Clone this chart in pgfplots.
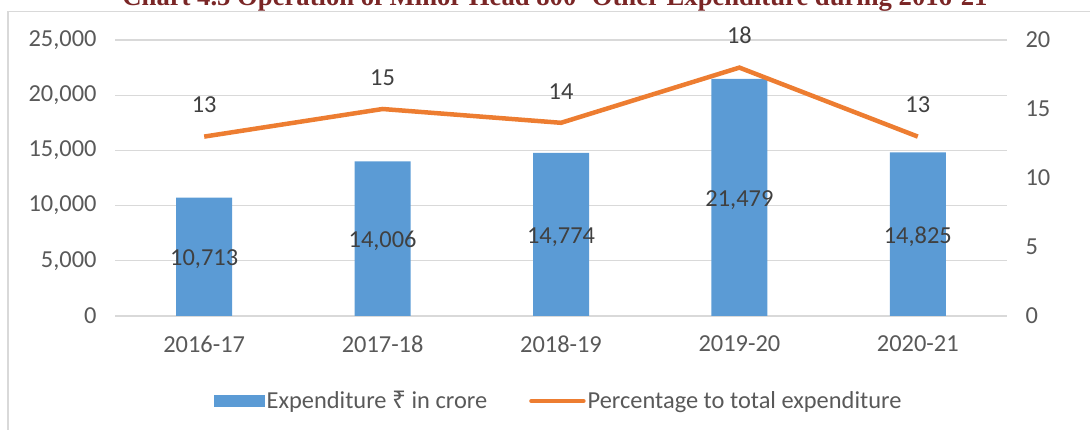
\documentclass[border=0pt]{standalone}
\usepackage{fontspec}
\setmainfont{Carlito}
\newfontfamily\titlefont{Liberation Serif}
\newfontfamily\rupeefont{Noto Sans}
\usepackage{pgfplots}
\usepackage{pgfplotstable}
\pgfplotsset{compat=1.18}

\definecolor{barblue}{RGB}{91,155,213}
\definecolor{lineorange}{RGB}{237,125,49}
\definecolor{gridgray}{RGB}{217,217,217}
\definecolor{ticktext}{RGB}{89,89,89}
\definecolor{labeltext}{RGB}{64,64,64}
\definecolor{titlered}{RGB}{122,38,38}
\definecolor{framegray}{RGB}{217,217,217}

\pgfplotstableread{
x y
0 10713
1 14006
2 14774
3 21479
4 14825
}\bardata

\pgfplotstableread{
x p
0 13
1 15
2 14
3 18
4 13
}\pctdata

\newcommand{\chartfont}{\fontsize{24.5}{28}\selectfont}

\begin{document}
\begin{tikzpicture}
\useasboundingbox (0bp,0bp) rectangle (1090bp,430bp);
% frame of the chart area
\draw[framegray, line width=1.5bp] (8bp,0bp) -- (8bp,418.5bp) -- (1090bp,418.5bp);
% title, cut off by the page top as in the source
\node[anchor=base, text=titlered, inner sep=0pt] at (555bp,424bp)
  {\resizebox{865bp}{!}{\titlefont\bfseries Chart 4.5 Operation of Minor Head 800- Other Expenditure during 2016-21}};

\begin{axis}[
  at={(115bp,114bp)}, anchor=south west,
  scale only axis, width=892bp, height=276bp,
  xmin=-0.5, xmax=4.5,
  ymin=0, ymax=25000,
  axis line style={draw=none},
  major tick length=0pt,
  xtick={0,1,2,3,4},
  xticklabels={2016-17,2017-18,2018-19,2019-20,2020-21},
  ytick={0,5000,10000,15000,20000,25000},
  ytick pos=left,
  ymajorgrids,
  grid style={gridgray, line width=1.3bp},
  tick label style={font=\chartfont, text=ticktext},
  yticklabel style={xshift=-15bp},
  xticklabel style={yshift=-16bp},
  scaled y ticks=false,
  /pgf/number format/assume math mode=true,
  /pgf/number format/1000 sep={,},
]
\addplot[ybar, bar width=56bp, fill=barblue, draw=none] table[x=x, y=y] {\bardata};
\addplot[draw=none, mark=none,
  nodes near coords={\pgfmathprintnumber[1000 sep={,}]{\pgfplotspointmeta}},
  point meta=explicit,
  every node near coord/.append style={anchor=center, yshift=-2.5bp, font=\chartfont, text=labeltext}]
  table[x=x, y expr=\thisrow{y}/2, meta=y] {\bardata};
\end{axis}

\begin{axis}[
  at={(115bp,114bp)}, anchor=south west,
  scale only axis, width=892bp, height=276bp,
  xmin=-0.5, xmax=4.5,
  ymin=0, ymax=20,
  clip=false,
  axis line style={draw=none},
  major tick length=0pt,
  xtick=\empty,
  ytick={0,5,10,15,20},
  ytick pos=right,
  tick label style={font=\chartfont, text=ticktext},
  yticklabel style={xshift=15bp},
  /pgf/number format/assume math mode=true,
  legend style={at={(0.111,-0.308)}, anchor=west, draw=none, fill=none,
    inner sep=0pt, font=\chartfont, text=ticktext,
    /tikz/every even column/.append style={column sep=40bp}},
  legend columns=2,
  legend cell align=left,
]
\addlegendimage{legend image code/.code={\fill[barblue] (0bp,-5.5bp) rectangle (50bp,5.5bp);}}
\addlegendentry{Expenditure {\rupeefont ₹} in crore}
\addplot[lineorange, line width=4.5bp, mark=none,
  legend image code/.code={\draw[lineorange, line width=4.5bp, line cap=round] (2bp,0bp) -- (54bp,0bp);},
  nodes near coords, point meta=explicit,
  every node near coord/.append style={yshift=18bp, font=\chartfont, text=labeltext}]
  table[x=x, y=p, meta=p] {\pctdata};
\addlegendentry{Percentage to total expenditure}
\end{axis}
\end{tikzpicture}
\end{document}
